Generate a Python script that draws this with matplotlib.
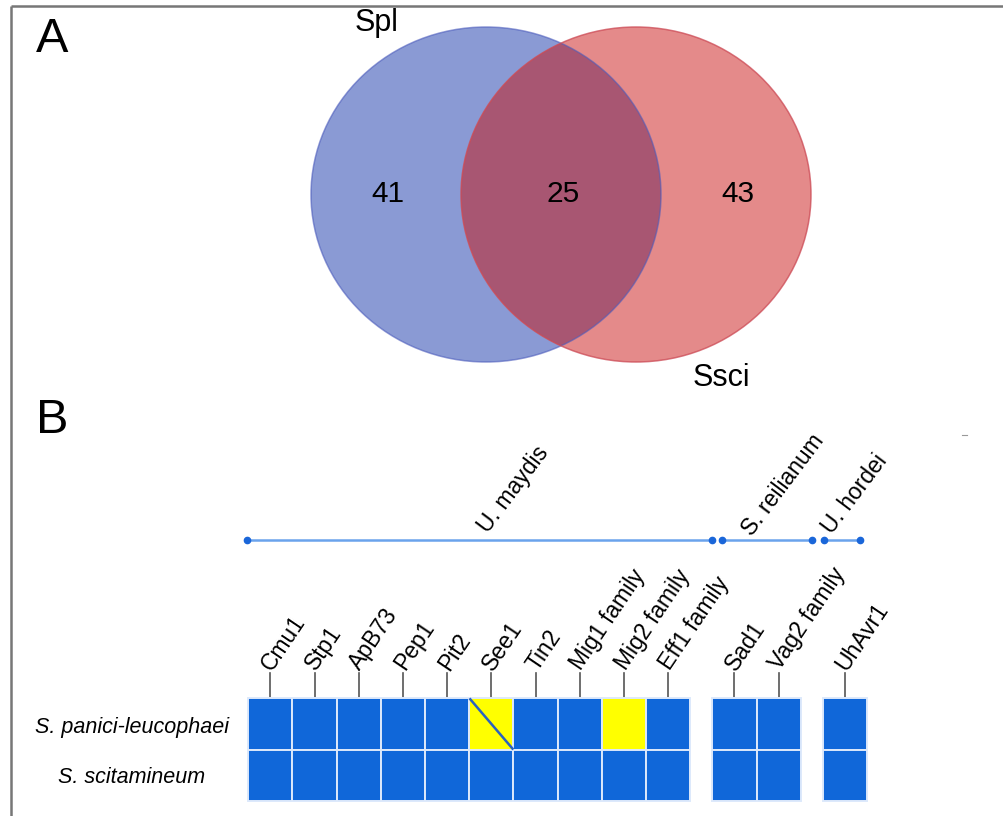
import matplotlib
matplotlib.use("Agg")
import matplotlib.pyplot as plt
from matplotlib.patches import Ellipse, Rectangle

plt.rcParams['font.family'] = ['Liberation Sans', 'DejaVu Sans']

# ---- Panel A: shared effectors between the two smut genomes ----
set_names = ["Spl", "Ssci"]
venn_counts = [41, 25, 43]          # Spl only, shared, Ssci only

# ---- Panel B: presence of characterised effectors ----
genes = ["Cmu1", "Stp1", "ApB73", "Pep1", "Pit2", "See1", "Tin2",
         "Mig1 family", "Mig2 family", "Eff1 family",
         "Sad1", "Vag2 family", "UhAvr1"]
gene_source = ["U. maydis"] * 10 + ["S. reilianum"] * 2 + ["U. hordei"]
source_order = ["U. maydis", "S. reilianum", "U. hordei"]
species = ["S. panici-leucophaei", "S. scitamineum"]
# P = present, A = absent, H = partial homology
presence = [
    ["P", "P", "P", "P", "P", "H", "P", "P", "A", "P", "P", "P", "P"],
    ["P", "P", "P", "P", "P", "P", "P", "P", "P", "P", "P", "P", "P"],
]

# ---------------------------------------------------------------
fig = plt.figure(figsize=(10.04, 8.16), dpi=100)
ax = fig.add_axes([0, 0, 1, 1])
ax.set_xlim(0, 1004)
ax.set_ylim(816, 0)
ax.axis("off")

# frame lines (top and left only)
ax.plot([11, 1004], [6, 6], color="#777777", lw=1.8, solid_capstyle="butt")
ax.plot([11, 11], [6, 816], color="#777777", lw=1.8, solid_capstyle="butt")
ax.plot([962, 967], [435, 435], color="#999999", lw=0.8)

ax.text(52, 51.5, "A", fontsize=35, ha="center", va="baseline")
ax.text(52, 433, "B", fontsize=35, ha="center", va="baseline")

# ---- Venn diagram ----
cx_l, cx_r, cy = 486, 636, 194.5
w, h = 350, 335
blue_fill, blue_edge = "#8a9ad4", "#4c5cbc"
red_fill, red_edge = "#e48a8a", "#cc4a55"
over_fill = "#a85672"

e_left = Ellipse((cx_l, cy), w, h, facecolor=blue_fill, edgecolor="none", zorder=1)
e_right = Ellipse((cx_r, cy), w, h, facecolor=red_fill, edgecolor="none", zorder=2)
ax.add_patch(e_left)
ax.add_patch(e_right)
clip_shape = Ellipse((cx_l, cy), w, h, facecolor="none", edgecolor="none")
ax.add_patch(clip_shape)
e_over = Ellipse((cx_r, cy), w, h, facecolor=over_fill, edgecolor="none", zorder=3)
ax.add_patch(e_over)
e_over.set_clip_path(clip_shape)
ax.add_patch(Ellipse((cx_l, cy), w, h, facecolor="none", edgecolor=blue_edge,
                     lw=1.1, alpha=0.6, zorder=4))
ax.add_patch(Ellipse((cx_r, cy), w, h, facecolor="none", edgecolor=red_edge,
                     lw=1.1, alpha=0.75, zorder=5))

left_edge_l, right_edge_l = cx_l - w / 2, cx_l + w / 2
left_edge_r, right_edge_r = cx_r - w / 2, cx_r + w / 2
region_x = [(left_edge_l + left_edge_r) / 2,
            (left_edge_r + right_edge_l) / 2,
            (right_edge_l + right_edge_r) / 2]
for xpos, n in zip(region_x, venn_counts):
    ax.text(xpos + 2, 202, str(n), fontsize=21.5, ha="center", va="baseline", zorder=6)

ax.text(377, 31.5, set_names[0], fontsize=22, ha="center", va="baseline", zorder=6)
ax.text(721, 386.5, set_names[1], fontsize=22, ha="center", va="baseline", zorder=6)

# ---- Effector presence grid ----
x0, cw = 248.3, 44.2
row_top, rh = 698.3, 51.3
group_gap = 0.5

cols = []
c = 0.0
prev = gene_source[0]
for src in gene_source:
    if src != prev:
        c += group_gap
        prev = src
    cols.append(c)
    c += 1

cell_colors = {"P": "#1067d9", "A": "#ffff00", "H": "#ffff00"}
for r, row in enumerate(presence):
    for gi, status in enumerate(row):
        xl = x0 + cols[gi] * cw
        yt = row_top + r * rh
        ax.add_patch(Rectangle((xl, yt), cw, rh, facecolor=cell_colors[status],
                               edgecolor="#dde9fb", lw=1.4, zorder=2))
        if status == "H":
            ax.plot([xl + 1, xl + cw - 1], [yt + 1, yt + rh - 1],
                    color="#2a62c0", lw=1.8, zorder=3)

for r, name in enumerate(species):
    ax.text(132, 732.7 + r * 50.6, name, fontsize=15.5, style="italic",
            ha="center", va="baseline")

# gene labels with leader ticks
for gi, g in enumerate(genes):
    xc = x0 + (cols[gi] + 0.5) * cw
    ax.plot([xc, xc], [673, row_top], color="#555555", lw=1.2, zorder=1)
    ax.text(xc + 1.5, 671.5, g, fontsize=16.5, rotation=56,
            rotation_mode="anchor", ha="left", va="baseline")

# source organism brackets
spans = {"U. maydis": (-0.03, 10.5), "S. reilianum": (10.72, 12.75),
         "U. hordei": (13.02, 13.84)}
label_pos = {"U. maydis": (488, 534), "S. reilianum": (752, 537),
             "U. hordei": (832, 535)}
line_y = 540
for src in source_order:
    a, b = spans[src]
    xa, xb = x0 + a * cw, x0 + b * cw
    ax.plot([xa, xb], [line_y, line_y], color="#6aa3ec", lw=1.8, zorder=2)
    ax.plot([xa, xb], [line_y, line_y], ls="none", marker="o", ms=4.5,
            color="#1a66d9", zorder=3)
    lx, ly = label_pos[src]
    ax.text(lx, ly, src, fontsize=16.5, rotation=53,
            rotation_mode="anchor", ha="left", va="baseline")

fig.savefig("out.png", dpi=100)
